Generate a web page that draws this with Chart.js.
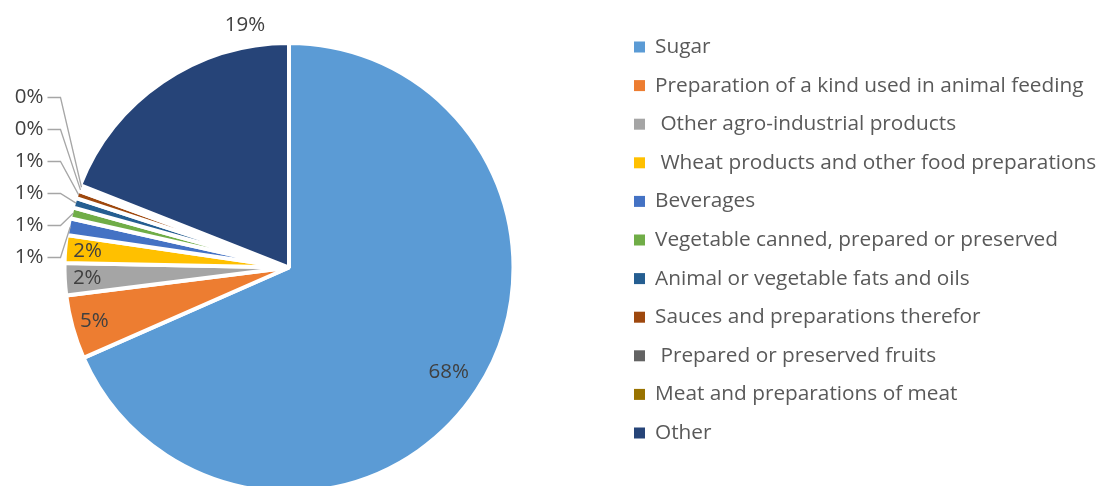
<!DOCTYPE html>
<html>
<head>
<meta charset="utf-8">
<script src="https://cdn.jsdelivr.net/npm/chart.js@4.4.0/dist/chart.umd.min.js"></script>
<style>
    html, body { margin: 0; padding: 0; background: #fff; overflow: hidden; }
    #wrap { width: 1105px; height: 536px; }
</style>
</head>
<body>
<div id="wrap"><canvas id="pieChart" width="1105" height="536"></canvas></div>
<script>
// categories as shown in the legend (leading spaces kept as in the original)
const categories = [
    'Sugar',
    'Preparation of a kind used in animal feeding',
    ' Other agro-industrial products',
    ' Wheat products and other food preparations',
    'Beverages',
    'Vegetable canned, prepared or preserved',
    'Animal or vegetable fats and oils',
    'Sauces and preparations therefor',
    ' Prepared or preserved fruits',
    'Meat and preparations of meat',
    'Other'
];

// share of each category, %
const shares = [68.3, 4.6, 2.3, 2.0, 1.2, 0.8, 0.7, 0.55, 0.2, 0.2, 19.0];

const sliceColours = [
    '#5b9bd5', '#ed7d31', '#a5a5a5', '#ffc000', '#4472c4', '#70ad47',
    '#255e91', '#9e480e', '#636363', '#997300', '#264478'
];

const FONT = '"Open Sans", "DejaVu Sans", sans-serif';

// percent labels: inside for big slices, leader lines for the thin ones
const sliceLabels = {
    id: 'sliceLabels',
    afterDatasetsDraw(chart) {
        const ctx = chart.ctx;
        const arcs = chart.getDatasetMeta(0).data;
        const values = chart.data.datasets[0].data;
        ctx.save();
        ctx.font = '20.5px ' + FONT;
        ctx.fillStyle = '#404040';
        ctx.textBaseline = 'middle';
        arcs.forEach((arc, i) => {
            const p = arc.getProps(['x', 'y', 'startAngle', 'endAngle', 'outerRadius'], true);
            const mid = (p.startAngle + p.endAngle) / 2;
            const r = p.outerRadius;
            const text = Math.round(values[i]) + '%';
            if (i <= 3) {
                const rho = i === 0 ? 0.85 * r : 0.9 * r;
                ctx.textAlign = 'center';
                ctx.fillText(text, p.x + Math.cos(mid) * rho, p.y + Math.sin(mid) * rho);
            } else if (i === arcs.length - 1) {
                ctx.textAlign = 'center';
                ctx.fillText(text, p.x - 44, p.y - r - 18);
            } else {
                const k = i - 4;
                const ly = p.y - 10 - k * 32;
                const sx = p.x - r - 17, ex = p.x - r - 4;
                const ax = p.x + Math.cos(mid) * (r - 2), ay = p.y + Math.sin(mid) * (r - 2);
                ctx.strokeStyle = '#a6a6a6';
                ctx.lineWidth = 1.3;
                ctx.beginPath();
                ctx.moveTo(sx, ly);
                ctx.lineTo(ex, ly);
                ctx.lineTo(ax, ay);
                ctx.stroke();
                ctx.textAlign = 'right';
                ctx.fillText(text, sx - 4, ly);
            }
        });
        ctx.restore();
    }
};

// legend drawn on the right, one row per category
const sideLegend = {
    id: 'sideLegend',
    afterDraw(chart) {
        const ctx = chart.ctx;
        const labels = chart.data.labels;
        const colours = chart.data.datasets[0].backgroundColor;
        ctx.save();
        ctx.font = '20.8px ' + FONT;
        ctx.textBaseline = 'middle';
        ctx.textAlign = 'left';
        labels.forEach((lab, i) => {
            const y = 47 + i * 38.6;
            ctx.fillStyle = colours[i];
            ctx.fillRect(634, y - 5.5, 11, 11);
            ctx.fillStyle = '#595959';
            ctx.fillText(lab, 655, y);
        });
        ctx.restore();
    }
};

new Chart(document.getElementById('pieChart'), {
    type: 'pie',
    data: {
        labels: categories,
        datasets: [{
            data: shares,
            backgroundColor: sliceColours,
            borderColor: '#ffffff',
            borderWidth: 4
        }]
    },
    options: {
        responsive: false,
        animation: false,
        layout: { padding: { left: 62, top: 41, right: 589, bottom: 42 } },
        plugins: {
            legend: { display: false },
            tooltip: { enabled: false }
        }
    },
    plugins: [sliceLabels, sideLegend]
});
</script>
</body>
</html>
